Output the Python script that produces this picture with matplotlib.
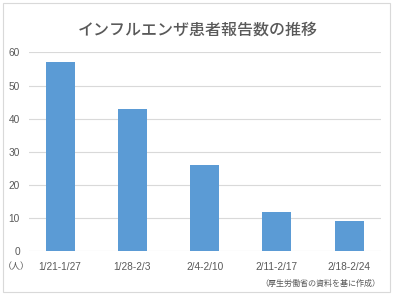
import matplotlib.pyplot as plt
from matplotlib.patches import Rectangle

# data
weeks = ['1/21-1/27', '1/28-2/3', '2/4-2/10', '2/11-2/17', '2/18-2/24']
patients = [57, 43, 26, 12, 9]
yticks = [0, 10, 20, 30, 40, 50, 60]

title = 'インフルエンザ患者報告数の推移'
unit_label = '（人）'
source_label = '（厚生労働省の資料を基に作成）'

plt.rcParams['font.family'] = ['Liberation Sans', 'Noto Sans CJK JP']
txt = '#595959'

fig = plt.figure(figsize=(3.96, 2.97), dpi=100)
fig.patch.set_facecolor('white')

# light frame around the chart, like the spreadsheet export
fig.add_artist(Rectangle((3 / 396, 5 / 297), 387 / 396, 289 / 297,
                         transform=fig.transFigure, fill=False,
                         edgecolor='#D9D9D9', lw=0.8))

ax = fig.add_axes([29 / 396, 45.7 / 297, 352 / 396, 198.9 / 297])
x = range(len(weeks))
ax.bar(x, patients, width=0.4, color='#5B9BD5', zorder=3)

ax.set_ylim(0, 60)
ax.set_xlim(-0.43, 4.44)
ax.set_yticks(yticks)
for v in yticks:
    ax.axhline(v, color='#D9D9D9', lw=0.8, zorder=1)
ax.set_xticks(list(x))
ax.set_xticklabels(weeks)
ax.tick_params(axis='both', length=0, labelsize=7.3, labelcolor=txt)
ax.tick_params(axis='y', pad=6.5)
ax.tick_params(axis='x', pad=8)
for s in ax.spines.values():
    s.set_visible(False)

fig.text(197.5 / 396, 1 - 30 / 297, title, ha='center', va='center',
         fontsize=11.5, color=txt, fontweight='medium',
         family=['Noto Sans CJK JP'])
fig.text(16 / 396, 1 - 267 / 297, unit_label, ha='center', va='center',
         fontsize=6.5, color=txt, family=['Noto Sans CJK JP'])
fig.text(380 / 396, 1 - 283 / 297, source_label, ha='right', va='center',
         fontsize=5.8, color=txt, family=['Noto Sans CJK JP'])

fig.savefig('out.png', dpi=100)
